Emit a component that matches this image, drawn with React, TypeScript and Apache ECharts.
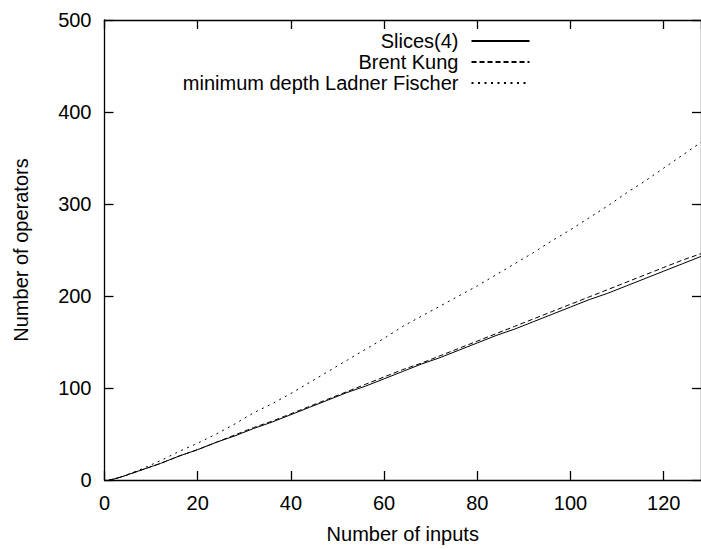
import React, { useEffect, useRef } from "react";
import * as echarts from "echarts";

const inputs = [1, 2, 4, 8, 12, 16, 20, 24, 28, 32, 36, 40, 44, 48, 52, 56, 60, 64, 68, 72, 76, 80, 84, 88, 92, 96, 100, 104, 108, 112, 116, 120, 124, 128];
const slices4 = [0, 1, 4, 11, 18, 26, 33, 41, 48, 56, 63, 71, 79, 87, 95, 102, 110, 118, 126, 133, 141, 149, 157, 164, 172, 180, 188, 196, 203, 211, 219, 227, 235, 243];
const brentKung = [0, 1, 4, 11, 18, 26, 33, 41, 49, 57, 64, 72, 80, 88, 96, 104, 112, 120, 127, 135, 143, 151, 159, 167, 175, 183, 191, 199, 207, 215, 223, 231, 239, 246];
const ladnerFischer = [0, 1, 4, 12, 21, 31, 40, 50, 61, 73, 83, 94, 106, 118, 130, 142, 154, 167, 178, 189, 200, 211, 223, 235, 247, 260, 272, 285, 298, 312, 325, 339, 353, 367];
const seriesNames = ["Slices(4)", "Brent Kung", "minimum depth Ladner Fischer"];

const FONT = "Liberation Sans, Arial, Helvetica, sans-serif";
const FS = 20;

const mkLine = () => ({ show: true, onZero: false, lineStyle: { color: "#000", width: 1.3 } });
const mkTick = () => ({ show: true, inside: true, length: 9, lineStyle: { color: "#000", width: 1.3 } });

export default function App() {
  const ref = useRef<HTMLDivElement>(null);
  useEffect(() => {
    if (!ref.current) return;
    const chart = echarts.init(ref.current, undefined, { renderer: "svg" });
    const pair = (ys: number[]) => inputs.map((x, i) => [x, ys[i]]);
    const lineStyles: any[] = [
      { color: "#000", width: 1, type: "solid" },
      { color: "#000", width: 1, type: [5, 3] },
      { color: "#000", width: 1, type: [2, 4.5] },
    ];
    const dataSets = [slices4, brentKung, ladnerFischer];
    chart.setOption({
      animation: false,
      textStyle: { fontFamily: FONT },
      grid: { left: 104.5, top: 20, width: 597.3, height: 460, containLabel: false },
      legend: seriesNames.map((n, i) => ({
        data: [n],
        orient: "vertical",
        right: 170.5,
        top: 31 + i * 21,
        align: "right",
        itemWidth: 58,
        itemHeight: 10,
        selectedMode: false,
        itemStyle: { color: "transparent", borderWidth: 0, opacity: 0 },
        textStyle: { fontFamily: FONT, fontSize: FS, color: "#000", padding: [0, 8, 0, 0] },
        padding: 0,
      })),
      xAxis: [
        {
          type: "value",
          min: 0,
          max: 128,
          interval: 20,
          position: "bottom",
          name: "Number of inputs",
          nameLocation: "middle",
          nameGap: 44,
          nameTextStyle: { fontFamily: FONT, fontSize: FS, color: "#000" },
          axisLine: mkLine(),
          axisTick: mkTick(),
          splitLine: { show: false },
          axisLabel: { fontFamily: FONT, fontSize: FS, color: "#000", margin: 13, showMaxLabel: false },
        },
        {
          type: "value",
          min: 0,
          max: 128,
          interval: 20,
          position: "top",
          axisLine: mkLine(),
          axisTick: mkTick(),
          splitLine: { show: false },
          axisLabel: { show: false },
        },
      ],
      yAxis: [
        {
          type: "value",
          min: 0,
          max: 500,
          interval: 100,
          position: "left",
          name: "Number of operators",
          nameLocation: "middle",
          nameGap: 74,
          nameTextStyle: { fontFamily: FONT, fontSize: FS, color: "#000" },
          axisLine: mkLine(),
          axisTick: mkTick(),
          splitLine: { show: false },
          axisLabel: { fontFamily: FONT, fontSize: FS, color: "#000", margin: 13 },
        },
        {
          type: "value",
          min: 0,
          max: 500,
          interval: 100,
          position: "right",
          axisLine: mkLine(),
          axisTick: mkTick(),
          splitLine: { show: false },
          axisLabel: { show: false },
        },
      ],
      series: seriesNames.map((n, i) => ({
        name: n,
        type: "line",
        xAxisIndex: 0,
        yAxisIndex: 0,
        data: pair(dataSets[i]),
        showSymbol: false,
        symbol: "none",
        lineStyle: lineStyles[i],
        itemStyle: { color: "#000" },
        z: 3 - i,
      })),
    });
    return () => chart.dispose();
  }, []);
  return <div ref={ref} style={{ width: 701, height: 549, position: "absolute", left: 0, top: 0 }} />;
}
